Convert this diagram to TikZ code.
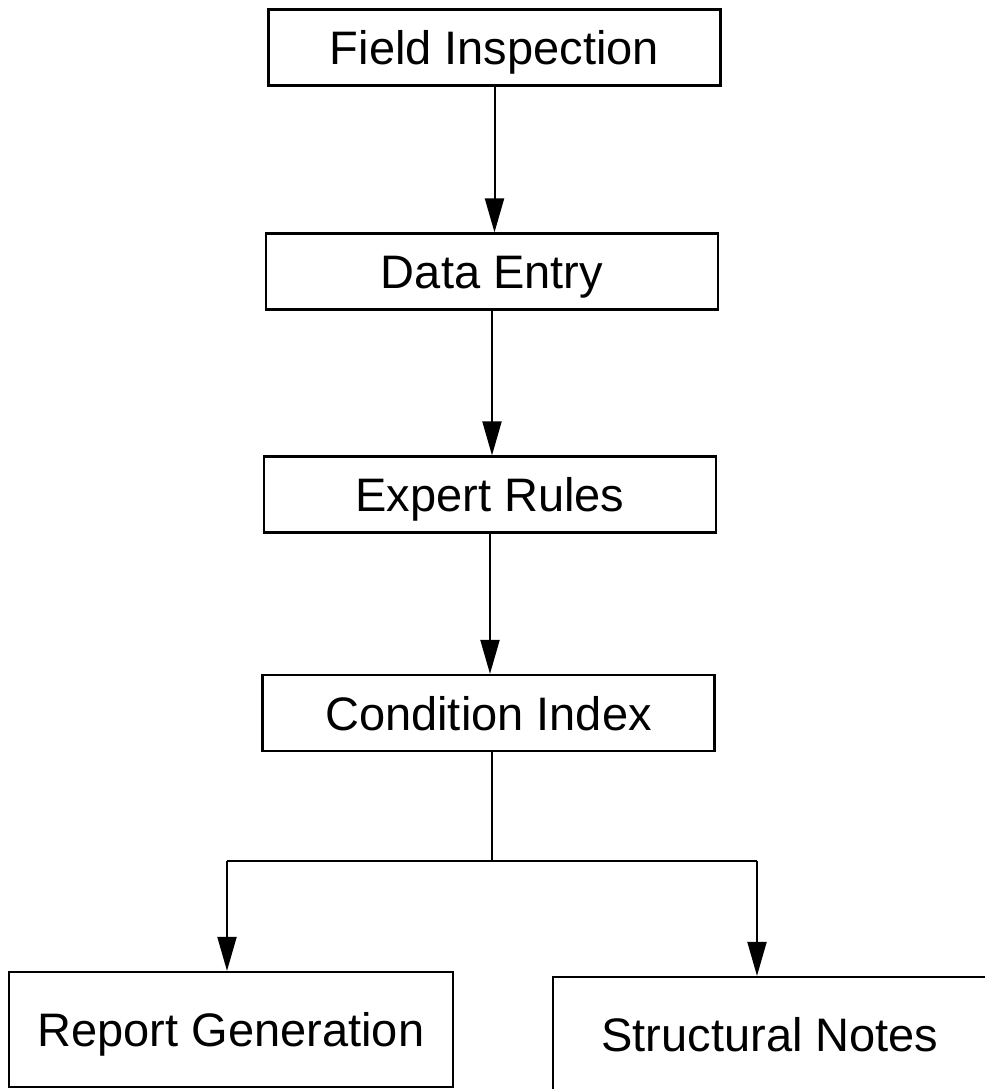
\documentclass[tikz,border=0pt]{standalone}
\usepackage{fontspec}
\setmainfont{Liberation Sans}
\usetikzlibrary{arrows.meta}
\begin{document}
\begin{tikzpicture}[x=0.5pt,y=-0.5pt,
  stepbox/.style={draw, line width=1.1pt, inner sep=0pt,
    text height=17pt, text depth=0pt,
    font=\fontsize{23.5}{28}\selectfont,
    minimum width=226pt, minimum height=38pt},
  flow/.style={line width=1pt, -{Triangle[length=17pt,width=9.5pt]}},
  link/.style={line width=1pt}]
\useasboundingbox (0,0) rectangle (985,1089);
\clip (0,0) rectangle (985,1089);

% process chain
\node[stepbox] (FI) at (494.5,47.5)  {Field Inspection};
\node[stepbox] (DE) at (492,271.5)   {Data Entry};
\node[stepbox] (ER) at (490,494.5)   {Expert Rules};
\node[stepbox] (CI) at (488.5,713)   {Condition Index};

% outputs
\node[stepbox, minimum width=222pt, minimum height=57.5pt] (RG) at (231,1029.5) {Report Generation};
\node[stepbox, minimum width=217pt, minimum height=57.5pt] (SN) at (770,1034.5) {Structural Notes};

% connectors
\draw[flow] (FI.south) -- (FI.south |- DE.north);
\draw[flow] (DE.south) -- (DE.south |- ER.north);
\draw[flow] (ER.south) -- (ER.south |- CI.north);

\coordinate (fork)  at (492,861);
\coordinate (forkL) at (227,861);
\coordinate (forkR) at (757,861);
\draw[link] (CI.south -| fork) -- (fork);
\draw[link] (forkL) -- (forkR);
\draw[flow] (forkL) -- (forkL |- RG.north);
\draw[flow] (forkR) -- (forkR |- SN.north);
\end{tikzpicture}
\end{document}
